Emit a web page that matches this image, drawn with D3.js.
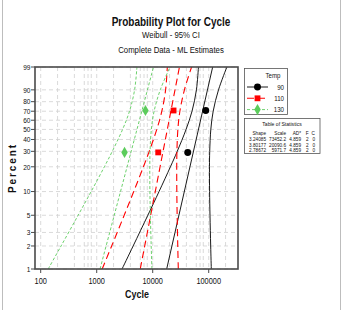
<!DOCTYPE html>
<html>
<head>
<meta charset="utf-8">
<script src="https://cdn.jsdelivr.net/npm/d3@7"></script>
<style>
  body { margin: 0; background: #fff; }
  svg { display: block; }
  text { font-family: "Liberation Sans Narrow", "Arial Narrow", "Liberation Sans", Arial, sans-serif; fill: #111; }
</style>
</head>
<body>
<svg id="chart" width="343" height="310"></svg>
<script>
var pctLevels = [1, 2, 5, 10, 20, 30, 50, 70, 90, 99];
var fitPct = [1, 99];
var plotPct = [29.2, 70.8];

var temps = ['90', '110', '130'];

// Temp 90
var cycles90 = [42240, 88560];
var fit90 = [17760, 117700];
var lower90 = [2835, 4475, 8188, 12978, 20718, 27420, 39440, 50360, 60350, 65550];
var upper90 = [111300, 108500, 105400, 103700, 103200, 104200, 109100, 120200, 149600, 211300];

// Temp 110
var cycles110 = [12540, 23560];
var fit110 = [5991, 30020];
var lower110 = [1253, 1849, 3096, 4584, 6830, 8674, 11823, 14562, 16991, 18234];
var upper110 = [28640, 28020, 27330, 26950, 26850, 27060, 28150, 30570, 36840, 49440];

// Temp 130
var cycles130 = [3140, 7420];
var fit130 = [1146, 10330];
var lower130 = [136, 231, 466, 796, 1370, 1898, 2898, 3849, 4750, 5229];
var upper130 = [9684, 9401, 9085, 8917, 8869, 8964, 9461, 10584, 13655, 20400];

// table of statistics
var shapes = ['3.24085', '3.80177', '2.78672'];
var scales = ['73452.2', '20090.6', '5971.7'];
var adStar = ['4.859', '4.859', '4.859'];
var failures = ['2', '2', '2'];
var censored = ['0', '0', '0'];

var yTicks = [1, 2, 3, 5, 10, 20, 30, 40, 50, 60, 70, 80, 90, 99];
var xTicks = [100, 1000, 10000, 100000];
var xGridMult = [1, 2, 4, 6, 7, 8];

var svg = d3.select('#chart');
var pL = 35, pR = 238, pT = 67, pB = 269;

// weibull probability axis
var wz = function(p) { return Math.log(-Math.log(1 - p / 100)); };
var yLin = d3.scaleLinear().domain([wz(1), wz(99)]).range([pB, pT]);
var y = function(p) { return yLin(wz(p)); };
var x = d3.scaleLog().domain([79.1, 333500]).range([pL, pR]);

// narrow text: squeeze horizontally around the anchor point
function ntext(g, tx, ty, str, size, anchor, sx) {
  return g.append('text')
    .attr('transform', 'translate(' + tx + ',' + ty + ') scale(' + (sx || 0.82) + ',1)')
    .attr('text-anchor', anchor || 'middle')
    .style('font-size', size + 'px')
    .text(str);
}

// outer border
svg.append('rect').attr('x', 2.5).attr('y', -5).attr('width', 338).attr('height', 320)
  .attr('fill', 'none').attr('stroke', '#bdbdbd').attr('stroke-width', 1);

// titles
ntext(svg, 171, 26, 'Probability Plot for Cycle', 12.5, 'middle', 0.8).style('font-weight', 'bold');
ntext(svg, 171, 38, 'Weibull - 95% CI', 9.5);
ntext(svg, 171, 53, 'Complete Data - ML Estimates', 9.5);

// grid
var grid = svg.append('g').attr('stroke', '#d0d0d0').attr('stroke-width', 0.8).attr('stroke-dasharray', '4,3');
yTicks.forEach(function(p) {
  grid.append('line').attr('x1', pL).attr('x2', pR).attr('y1', y(p)).attr('y2', y(p));
});
var xGrid = [];
[100, 1000, 10000, 100000].forEach(function(d) {
  xGridMult.forEach(function(m) { xGrid.push(d * m); });
});
xGrid.filter(function(v) { return x(v) > pL && x(v) < pR; }).forEach(function(v) {
  grid.append('line').attr('x1', x(v)).attr('x2', x(v)).attr('y1', pT).attr('y2', pB);
});

// clip for curves
svg.append('clipPath').attr('id', 'clip').append('rect')
  .attr('x', pL).attr('y', pT).attr('width', pR - pL).attr('height', pB - pT);
var plot = svg.append('g').attr('clip-path', 'url(#clip)');

var series = [
  {name: '90', color: '#000000', dash: null, width: 0.9, lower: lower90, upper: upper90, fit: fit90, pts: cycles90, sym: d3.symbolCircle, size: 38},
  {name: '110', color: '#ff0000', dash: '7,4', width: 1.1, lower: lower110, upper: upper110, fit: fit110, pts: cycles110, sym: d3.symbolSquare, size: 34},
  {name: '130', color: '#5ccc5c', dash: '3,2', width: 0.9, lower: lower130, upper: upper130, fit: fit130, pts: cycles130, sym: d3.symbolDiamond, size: 36}
];

var band = d3.line().x(function(d) { return x(d[0]); }).y(function(d) { return y(d[1]); })
  .curve(d3.curveCatmullRom.alpha(0.5));

series.forEach(function(s) {
  [s.lower, s.upper].forEach(function(arr) {
    plot.append('path')
      .datum(arr.map(function(v, i) { return [v, pctLevels[i]]; }))
      .attr('d', band).attr('fill', 'none').attr('stroke', s.color)
      .attr('stroke-width', s.width).attr('stroke-dasharray', s.dash);
  });
  plot.append('path')
    .datum(s.fit.map(function(v, i) { return [v, fitPct[i]]; }))
    .attr('d', d3.line().x(function(d) { return x(d[0]); }).y(function(d) { return y(d[1]); }))
    .attr('fill', 'none').attr('stroke', s.color)
    .attr('stroke-width', s.width).attr('stroke-dasharray', s.dash);
});
series.forEach(function(s) {
  s.pts.forEach(function(v, i) {
    svg.append('path').attr('d', d3.symbol().type(s.sym).size(s.size))
      .attr('transform', 'translate(' + x(v) + ',' + y(plotPct[i]) + ')')
      .attr('fill', s.color);
  });
});

// frame
svg.append('rect').attr('x', pL).attr('y', pT).attr('width', pR - pL).attr('height', pB - pT)
  .attr('fill', 'none').attr('stroke', '#4a4a4a').attr('stroke-width', 1.6);

// y axis
var yAxis = svg.append('g');
yTicks.forEach(function(p) {
  yAxis.append('line').attr('x1', pL - 4).attr('x2', pL).attr('y1', y(p)).attr('y2', y(p))
    .attr('stroke', '#4a4a4a').attr('stroke-width', 1);
  ntext(yAxis, pL - 4.5, y(p) + 2.8, p, 8, 'end');
});

// x axis
var xAxis = svg.append('g');
xTicks.forEach(function(v) {
  xAxis.append('line').attr('x1', x(v)).attr('x2', x(v)).attr('y1', pB).attr('y2', pB + 4)
    .attr('stroke', '#4a4a4a').attr('stroke-width', 1);
  ntext(xAxis, x(v), 284, v, 9, 'middle');
});

ntext(svg, 137, 298, 'Cycle', 10.5, 'middle', 0.85).style('font-weight', 'bold');
svg.append('text').attr('transform', 'translate(16,168) rotate(-90)').attr('text-anchor', 'middle')
  .style('font-size', '10px').style('font-weight', 'bold').style('letter-spacing', '1.9px')
  .text('Percent');

// legend
var lg = svg.append('g');
lg.append('rect').attr('x', 244.5).attr('y', 68.5).attr('width', 43).attr('height', 46)
  .attr('fill', '#fff').attr('stroke', '#555').attr('stroke-width', 0.8);
ntext(lg, 273, 77.5, 'Temp', 7.5);
series.forEach(function(s, i) {
  var ly = 87 + i * 11.3;
  lg.append('line').attr('x1', 247).attr('x2', 268).attr('y1', ly).attr('y2', ly)
    .attr('stroke', s.color).attr('stroke-width', s.width).attr('stroke-dasharray', s.dash);
  lg.append('path').attr('d', d3.symbol().type(s.sym).size(s.size))
    .attr('transform', 'translate(257.5,' + ly + ')').attr('fill', s.color);
  ntext(lg, 284, ly + 2.5, s.name, 7.5, 'end');
});

// table of statistics
var tb = svg.append('g');
tb.append('rect').attr('x', 244.5).attr('y', 118.5).attr('width', 75.5).attr('height', 35)
  .attr('fill', '#fff').attr('stroke', '#555').attr('stroke-width', 0.8);
ntext(tb, 282, 126, 'Table of Statistics', 6.2);
var cols = [
  {head: 'Shape', vals: shapes, x: 266},
  {head: 'Scale', vals: scales, x: 286},
  {head: 'AD*', vals: adStar, x: 301},
  {head: 'F', vals: failures, x: 308.5},
  {head: 'C', vals: censored, x: 315}
];
cols.forEach(function(c) {
  ntext(tb, c.x, 134.5, c.head, 6, 'end', 0.78);
  c.vals.forEach(function(v, i) {
    ntext(tb, c.x, 141 + i * 5.5, v, 6, 'end', 0.78);
  });
});
</script>
</body>
</html>
